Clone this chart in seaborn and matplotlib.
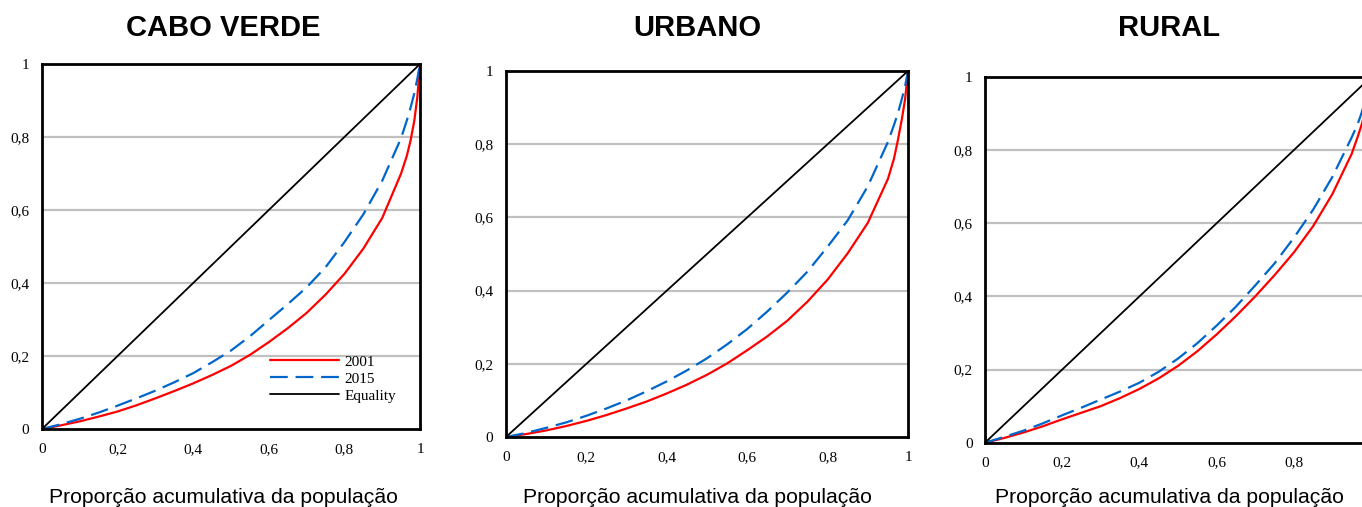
import matplotlib
matplotlib.use('Agg')
import matplotlib.pyplot as plt
import seaborn as sns

titles = ['CABO VERDE', 'URBANO', 'RURAL']
x_label = 'Proporção acumulativa da população'
tick_values = [0, 0.2, 0.4, 0.6, 0.8, 1]
tick_labels = ['0', '0,2', '0,4', '0,6', '0,8', '1']
series_names = ['2001', '2015', 'Equality']

pop_share = [0, 0.05, 0.1, 0.15, 0.2, 0.25, 0.3, 0.35, 0.4, 0.45, 0.5, 0.55, 0.6,
             0.65, 0.7, 0.75, 0.8, 0.85, 0.9, 0.95, 0.965, 0.975, 0.985, 0.993, 1]

cabo_2001 = [0, 0.010, 0.021, 0.034, 0.048, 0.065, 0.084, 0.104, 0.125, 0.148, 0.173, 0.203, 0.238,
             0.276, 0.318, 0.368, 0.425, 0.494, 0.578, 0.700, 0.748, 0.790, 0.845, 0.910, 1]
cabo_2015 = [0, 0.013, 0.028, 0.045, 0.064, 0.084, 0.105, 0.128, 0.153, 0.183, 0.215, 0.254, 0.298,
             0.342, 0.388, 0.443, 0.512, 0.588, 0.680, 0.797, 0.845, 0.880, 0.920, 0.960, 1]
urb_2001 = [0, 0.008, 0.018, 0.030, 0.044, 0.060, 0.078, 0.097, 0.119, 0.143, 0.170, 0.201, 0.237,
            0.275, 0.318, 0.370, 0.430, 0.502, 0.585, 0.705, 0.760, 0.812, 0.870, 0.925, 1]
urb_2015 = [0, 0.011, 0.025, 0.040, 0.058, 0.078, 0.100, 0.125, 0.152, 0.182, 0.215, 0.253, 0.295,
            0.343, 0.395, 0.452, 0.520, 0.592, 0.685, 0.806, 0.852, 0.885, 0.925, 0.960, 1]
rur_2001 = [0, 0.013, 0.028, 0.045, 0.064, 0.082, 0.100, 0.122, 0.147, 0.176, 0.210, 0.250, 0.296,
            0.346, 0.400, 0.458, 0.520, 0.592, 0.680, 0.790, 0.835, 0.867, 0.905, 0.945, 1]
rur_2015 = [0, 0.016, 0.033, 0.053, 0.075, 0.096, 0.118, 0.140, 0.164, 0.194, 0.230, 0.272, 0.320,
            0.372, 0.430, 0.490, 0.560, 0.637, 0.727, 0.835, 0.870, 0.900, 0.935, 0.965, 1]

equality = [0, 1]

panels = [(cabo_2001, cabo_2015), (urb_2001, urb_2015), (rur_2001, rur_2015)]

sns.set_style('white')
plt.rcParams['font.family'] = ['Liberation Serif', 'DejaVu Serif']
plt.rcParams['text.color'] = 'black'
plt.rcParams['xtick.color'] = 'black'
plt.rcParams['ytick.color'] = 'black'

fig = plt.figure(figsize=(13.62, 5.07), dpi=100)
W, H = 1362, 507

# axes boxes in pixels: left, right, top, bottom
boxes = [(42, 420, 64, 429), (506, 908, 71, 437), (985, 1371, 77, 442.7)]
centers = [223, 697, 1169]

for i, (box, (s01, s15)) in enumerate(zip(boxes, panels)):
    l, r, t, b = box
    ax = fig.add_axes([l / W, 1 - b / H, (r - l) / W, (b - t) / H])
    ax.set_xlim(0, 1)
    ax.set_ylim(0, 1)
    for y in tick_values[1:-1]:
        ax.axhline(y, color='#c0c0c0', lw=1.6, zorder=0)

    lab = i == 0
    sns.lineplot(x=pop_share, y=s01, ax=ax, color='#ff0000', lw=1.6,
                 label=series_names[0] if lab else None)
    sns.lineplot(x=pop_share, y=s15, ax=ax, color='#0066cc', lw=1.6,
                 linestyle=(0, (8, 3.5)), label=series_names[1] if lab else None)
    sns.lineplot(x=equality, y=equality, ax=ax, color='black', lw=1.3,
                 label=series_names[2] if lab else None)

    ax.set_xticks(tick_values)
    ax.set_xticklabels(tick_labels)
    ax.set_yticks(tick_values)
    ax.set_yticklabels(tick_labels)
    ax.tick_params(direction='out', length=4, width=1.5, labelsize=11,
                   colors='black', top=False, right=False)
    ax.tick_params(axis='y', pad=5)
    ax.tick_params(axis='x', pad=6)
    if i == 2:
        # the last label falls outside the picture, as in the original
        ax.get_xticklabels()[-1].set_visible(False)
    for sp in ax.spines.values():
        sp.set_visible(True)
        sp.set_linewidth(2.0)
        sp.set_color('black')
    ax.set_xlabel('')
    ax.set_ylabel('')

    if lab:
        ax.legend(loc='upper left', bbox_to_anchor=((270 - l) / (r - l), (b - 355) / (b - t)),
                  frameon=False, fontsize=11, handlelength=4.5, handletextpad=0.4,
                  labelspacing=0.22, borderpad=0, borderaxespad=0)
    elif ax.get_legend() is not None:
        ax.get_legend().remove()

    fig.text(centers[i] / W, 1 - 28 / H, titles[i], ha='center', va='center', color='black',
             fontsize=21, fontweight='bold', family=['Liberation Sans', 'DejaVu Sans'])
    fig.text(centers[i] / W, 1 - 503 / H, x_label, ha='center', va='baseline', color='black',
             fontsize=15.2, family=['Liberation Sans', 'DejaVu Sans'])

fig.savefig('out.png', dpi=100)
